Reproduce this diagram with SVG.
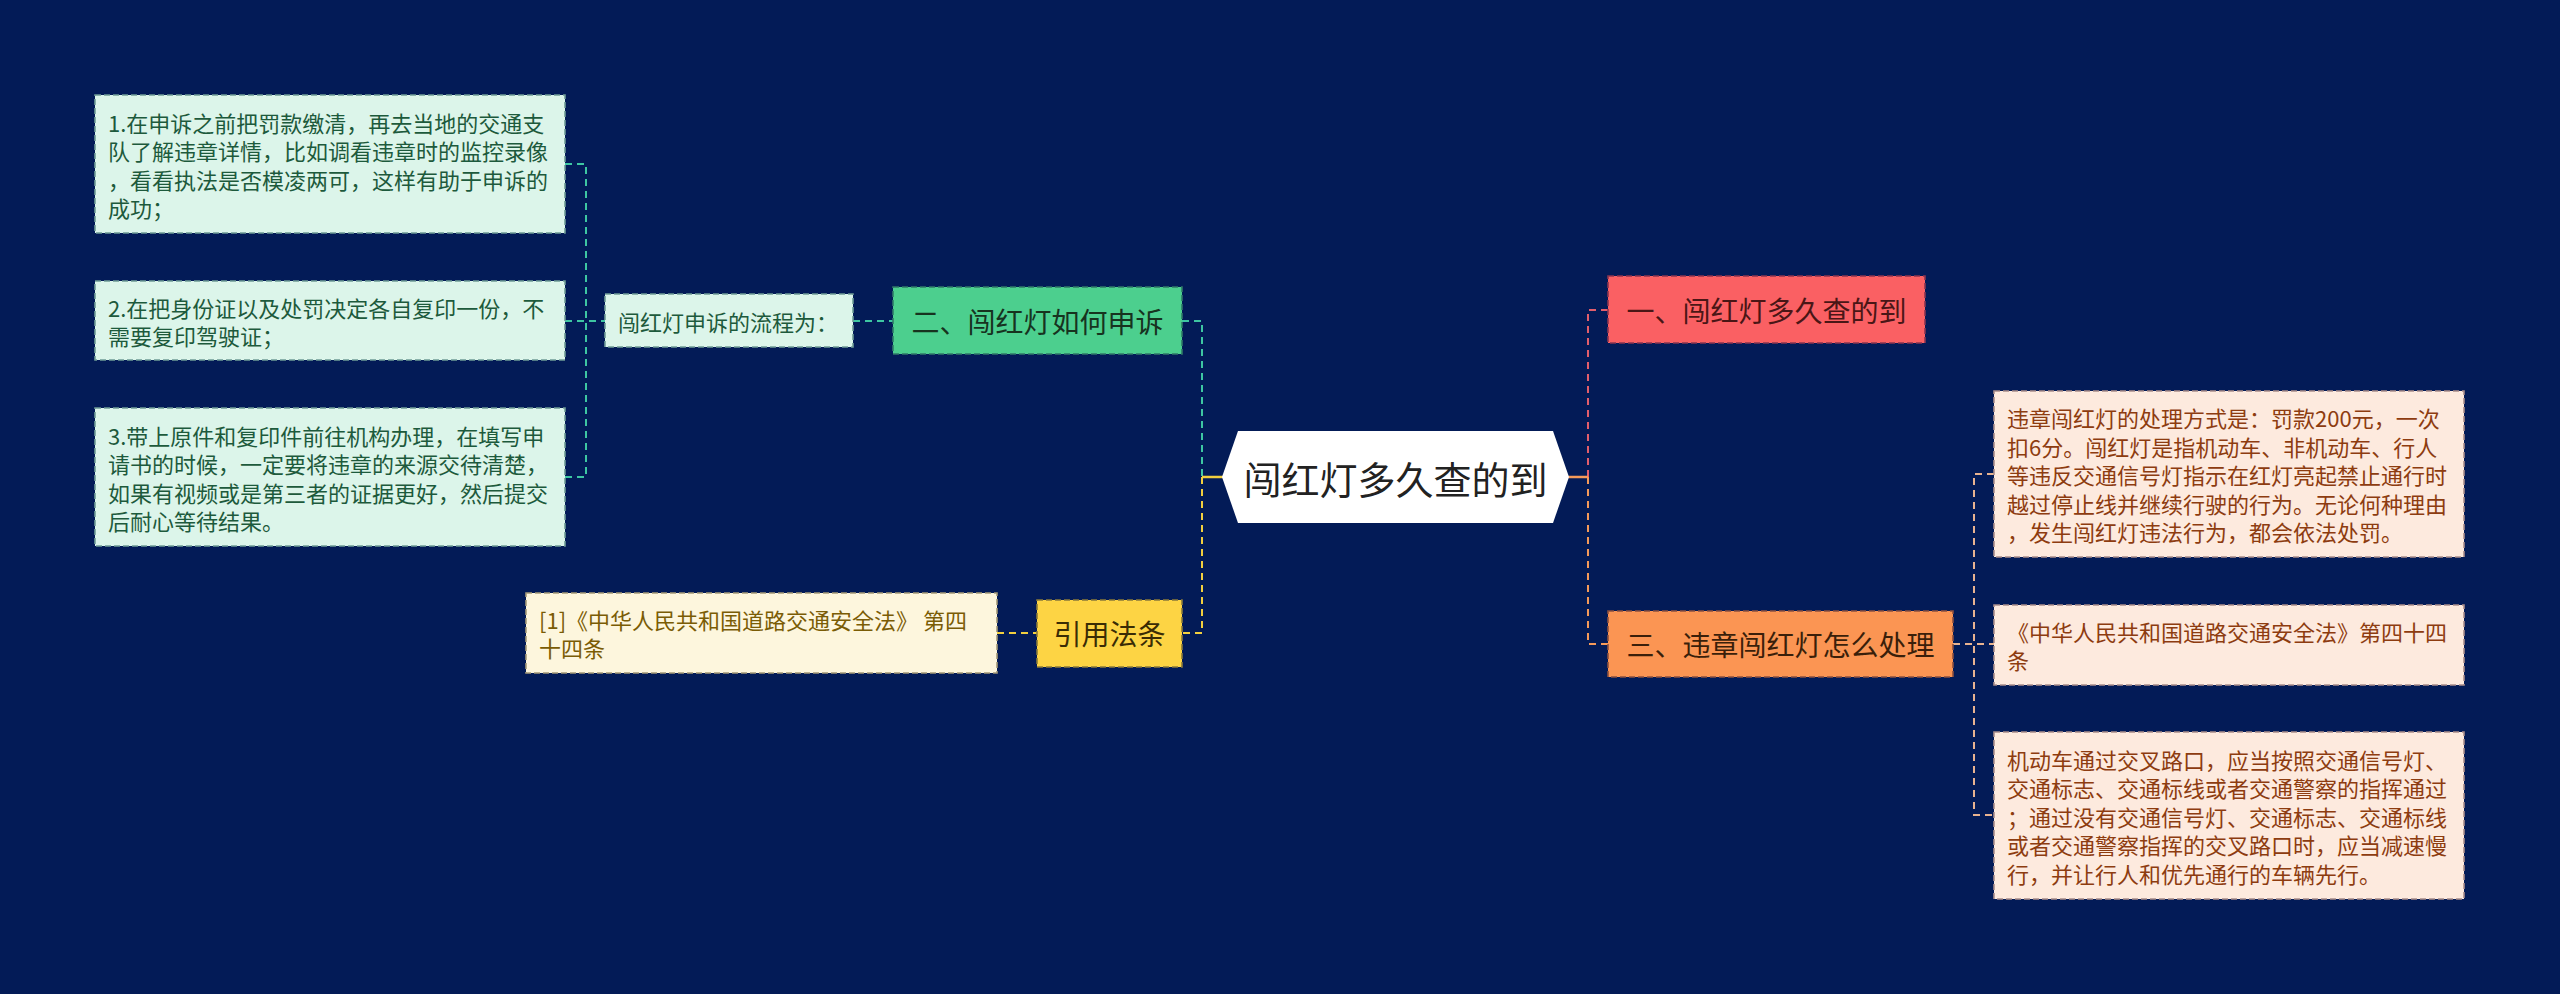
<svg xmlns="http://www.w3.org/2000/svg" width="2560" height="994" viewBox="0 0 2560 994">
<style>
text{font-family:"Noto Sans CJK SC","Noto Sans",sans-serif;dominant-baseline:central}
.c{fill:none;stroke-width:2;stroke-dasharray:7 5}
.s{fill:none;stroke-width:2.5}
.box{stroke-width:1.6;stroke-dasharray:6 3}
.t22{font-size:22px}
.t28{font-size:28px;text-anchor:middle}
.lg{fill:#dcf5ea;stroke:#6f9c96}
.lgt{fill:#1d5a3c}
.ly{fill:#fdf6dd;stroke:#a59a78}
.lyt{fill:#7a5c05}
.pe{fill:#fdeade;stroke:#a98d8a}
.pet{fill:#8d3c10}
</style>
<rect width="2560" height="994" fill="#031b57"/>
<g id="connectors">
<path class="c" stroke="#3ec6a2" d="M565,164 H586 V477 H565 M565,321 H606"/>
<path class="c" stroke="#3ec6a2" d="M853,321 H893"/>
<path class="c" stroke="#3ec6a2" d="M1182,321 H1202 V477"/>
<path class="c" stroke="#f2cf3f" d="M1202,477 V633 H1182"/>
<path class="s" stroke="#f2cf3f" d="M1202,477 H1224"/>
<path class="c" stroke="#f2cf3f" d="M997,633 H1037"/>
<path class="c" stroke="#e25e6c" d="M1608,310 H1588 V477"/>
<path class="c" stroke="#f59a5a" d="M1588,477 V644 H1608"/>
<path class="s" stroke="#f59a5a" d="M1567,477 H1588"/>
<path class="c" stroke="#e8b390" d="M1953,644 H1994 M1994,474 H1974 V815 H1994"/>
</g>
<g id="center">
<polygon points="1222,477 1238,431 1553,431 1569,477 1553,523 1238,523" fill="#ffffff"/>
<text x="1395.5" y="477" font-size="38" text-anchor="middle" fill="#222222">闯红灯多久查的到</text>
</g>
<g id="n1">
<rect class="box" x="1608" y="276" width="317" height="67" fill="#fa6063" stroke="#8a3550"/>
<text class="t28" x="1766.5" y="310" fill="#4a1616">一、闯红灯多久查的到</text>
</g>
<g id="n3">
<rect class="box" x="1608" y="611" width="345" height="66" fill="#fb9553" stroke="#8c5040"/>
<text class="t28" x="1780.5" y="644" fill="#3a1f0a">三、违章闯红灯怎么处理</text>
</g>
<g id="n3a">
<rect class="box pe" x="1994" y="391" width="470" height="166"/>
<text class="t22 pet" x="2007" y="417">违章闯红灯的处理方式是：罚款200元，一次</text>
<text class="t22 pet" x="2007" y="445.5">扣6分。闯红灯是指机动车、非机动车、行人</text>
<text class="t22 pet" x="2007" y="474">等违反交通信号灯指示在红灯亮起禁止通行时</text>
<text class="t22 pet" x="2007" y="502.5">越过停止线并继续行驶的行为。无论何种理由</text>
<text class="t22 pet" x="2007" y="531">，发生闯红灯违法行为，都会依法处罚。</text>
</g>
<g id="n3b">
<rect class="box pe" x="1994" y="605" width="470" height="80"/>
<text class="t22 pet" x="2007" y="631">《中华人民共和国道路交通安全法》第四十四</text>
<text class="t22 pet" x="2007" y="659">条</text>
</g>
<g id="n3c">
<rect class="box pe" x="1994" y="732" width="470" height="167"/>
<text class="t22 pet" x="2007" y="758.5">机动车通过交叉路口，应当按照交通信号灯、</text>
<text class="t22 pet" x="2007" y="787">交通标志、交通标线或者交通警察的指挥通过</text>
<text class="t22 pet" x="2007" y="815.5">；通过没有交通信号灯、交通标志、交通标线</text>
<text class="t22 pet" x="2007" y="844">或者交通警察指挥的交叉路口时，应当减速慢</text>
<text class="t22 pet" x="2007" y="872.5">行，并让行人和优先通行的车辆先行。</text>
</g>
<g id="n2">
<rect class="box" x="893" y="287" width="289" height="67" fill="#4ccf8e" stroke="#2f7a68"/>
<text class="t28" x="1037.5" y="321" fill="#17331f">二、闯红灯如何申诉</text>
</g>
<g id="n2a">
<rect class="box lg" x="605" y="294" width="248" height="53"/>
<text class="t22 lgt" x="618" y="321">闯红灯申诉的流程为：</text>
</g>
<g id="n2a1">
<rect class="box lg" x="95" y="95" width="470" height="138"/>
<text class="t22 lgt" x="108" y="121.5">1.在申诉之前把罚款缴清，再去当地的交通支</text>
<text class="t22 lgt" x="108" y="150">队了解违章详情，比如调看违章时的监控录像</text>
<text class="t22 lgt" x="108" y="178.5">，看看执法是否模凌两可，这样有助于申诉的</text>
<text class="t22 lgt" x="108" y="207">成功；</text>
</g>
<g id="n2a2">
<rect class="box lg" x="95" y="281" width="470" height="79"/>
<text class="t22 lgt" x="108" y="306.5">2.在把身份证以及处罚决定各自复印一份，不</text>
<text class="t22 lgt" x="108" y="335">需要复印驾驶证；</text>
</g>
<g id="n2a3">
<rect class="box lg" x="95" y="408" width="470" height="138"/>
<text class="t22 lgt" x="108" y="434.5">3.带上原件和复印件前往机构办理，在填写申</text>
<text class="t22 lgt" x="108" y="463">请书的时候，一定要将违章的来源交待清楚，</text>
<text class="t22 lgt" x="108" y="491.5">如果有视频或是第三者的证据更好，然后提交</text>
<text class="t22 lgt" x="108" y="520">后耐心等待结果。</text>
</g>
<g id="n4">
<rect class="box" x="1037" y="600" width="145" height="67" fill="#fdd444" stroke="#8a7a3a"/>
<text class="t28" x="1109.5" y="633" fill="#3a2c05">引用法条</text>
</g>
<g id="n4a">
<rect class="box ly" x="526" y="593" width="471" height="80"/>
<text class="t22 lyt" x="539" y="619">[1]《中华人民共和国道路交通安全法》 第四</text>
<text class="t22 lyt" x="539" y="647">十四条</text>
</g>
</svg>
